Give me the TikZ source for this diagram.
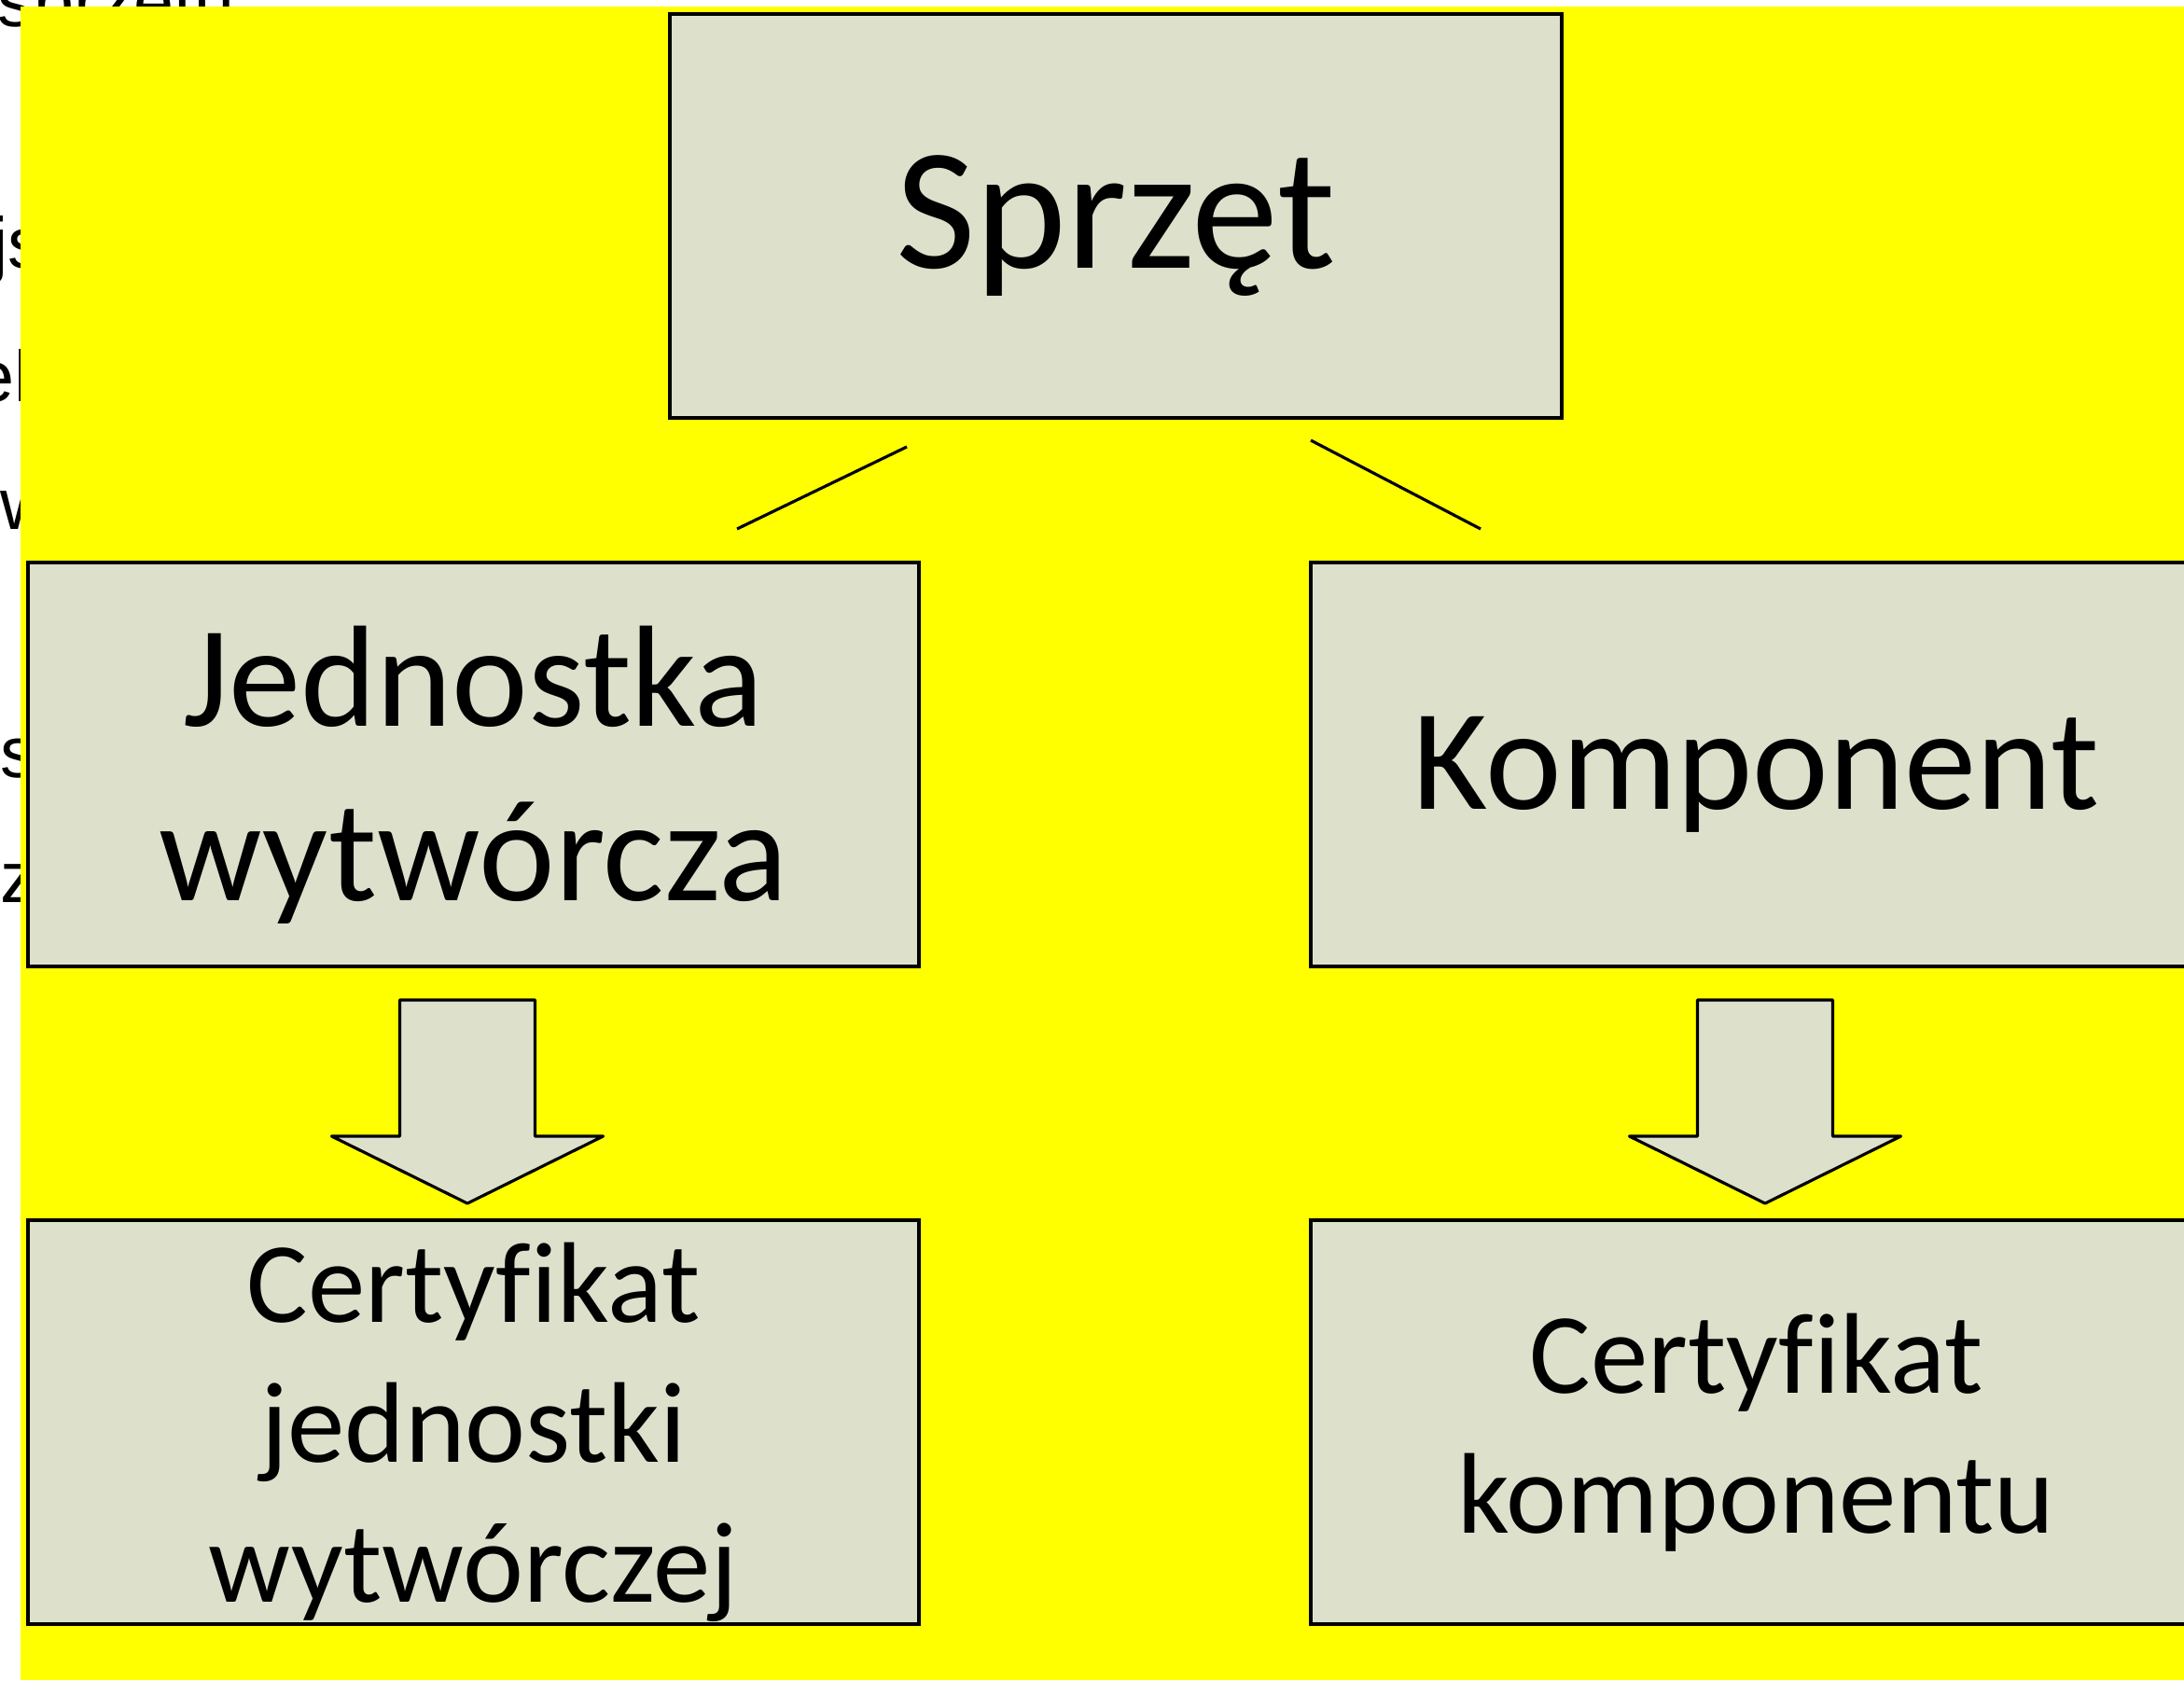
\documentclass[tikz,border=0pt]{standalone}
\usepackage{fontspec}
\setmainfont{Carlito}[Ligatures={NoCommon}]
\newfontfamily\slidefont{Liberation Sans}
\definecolor{boxfill}{RGB}{221,224,203}
\definecolor{slideyellow}{RGB}{255,255,0}
\newcommand\dn[1]{\raisebox{-0.11cm}[\height][\depth]{#1}}

\begin{document}
\begin{tikzpicture}
\tikzset{box/.style = {shape=rectangle,draw,fill=boxfill,line width=0.9pt,minimum width=9.55cm,minimum height=4.33cm,inner sep=0pt,align=center}}
\tikzset{link/.style = {line width=0.9pt}}
\tikzset{bigarrow/.style = {draw,fill=boxfill,line width=0.9pt,line join=round}}
\tikzset{under/.style = {font=\slidefont\fontsize{22pt}{26pt}\selectfont,anchor=base west,inner sep=0pt}}

\useasboundingbox (0,0) rectangle (23.41,-18.01);

%slide text under the panel
\node[under] (u0) at (-0.03,-0.28) {sprzętu};
\node[under] (u1) at (-0.09,-2.87) {js};
\node[under] (u2) at (-0.28,-4.30) {el};
\node[under] (u3) at (0,-5.67) {w};
\node[under] (u4) at (0,-8.33) {s};
\node[under] (u5) at (0,-9.67) {z};

\fill[slideyellow] (0.22,-0.07) rectangle (23.41,-18.01);

\node[box,minimum width=9.56cm,font=\fontsize{53pt}{63pt}\selectfont] (hw) at (11.96,-2.315) {\dn{Sprzęt}};
\node[box,font=\fontsize{44pt}{53.3pt}\selectfont] (unit) at (5.075,-8.195) {\dn{Jednostka}\\\dn{wytwórcza}};
\node[box,font=\fontsize{44pt}{53.3pt}\selectfont] (comp) at (18.825,-8.195) {\dn{Komponent}};
\node[box,font=\fontsize{35pt}{42.6pt}\selectfont] (unitcert) at (5.075,-15.245) {\dn{Certyfikat}\\\dn{jednostki}\\\dn{wytwórczej}};
\node[box,font=\fontsize{35pt}{42.6pt}\selectfont] (compcert) at (18.825,-15.245) {\dn{Certyfikat}\\\dn{komponentu}};

%lines
\coordinate (hwl) at (9.72,-4.79);
\coordinate (unitl) at (7.90,-5.67);
\coordinate (hwr) at (14.05,-4.72);
\coordinate (compl) at (15.87,-5.67);
\draw[link] (hwl) -- (unitl);
\draw[link] (hwr) -- (compl);

%arrows
\foreach \x in {5.01,18.92}
  \draw[bigarrow] (\x-0.725,-10.72) -- (\x+0.725,-10.72) -- (\x+0.725,-12.18) -- (\x+1.455,-12.18)
    -- (\x,-12.90) -- (\x-1.455,-12.18) -- (\x-0.725,-12.18) -- cycle;

\end{tikzpicture}
\end{document}
